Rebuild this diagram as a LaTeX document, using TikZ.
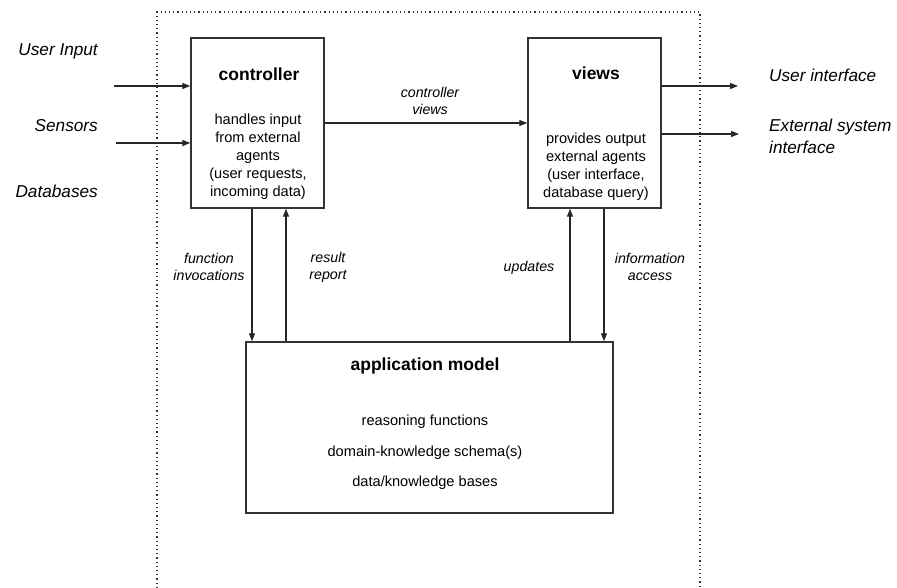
\documentclass[tikz,border=0pt]{standalone}
\usepackage{fontspec}
\setmainfont{Liberation Sans}
\usetikzlibrary{arrows.meta}
\begin{document}
\begin{tikzpicture}[x=1pt,y=-1pt,
  box/.style={draw=black!80, line width=1.4pt, inner sep=0pt, fill=none},
  arr/.style={draw=black!85, line width=1.3pt, -{Triangle[length=8pt,width=6pt]}},
  ttl/.style={font=\fontsize{17.5}{20}\selectfont\bfseries, inner sep=0pt},
  body/.style={font=\fontsize{14.6}{18}\selectfont, align=center, inner sep=0pt},
  elab/.style={font=\fontsize{14.2}{17.2}\selectfont\itshape, align=center, inner sep=0pt},
  slab/.style={font=\fontsize{17.2}{22}\selectfont\itshape, align=left, inner sep=0pt},
  bound/.style={draw=black!80, line width=1.3pt, dash pattern=on 1.2pt off 3pt}]
\useasboundingbox (0,0) rectangle (897,588);
% boundary (open at bottom)
\draw[bound] (157,588) -- (157,12) -- (700,12) -- (700,588);
% boxes
\node[box, minimum width=133pt, minimum height=170pt] (ctrl) at (257.5,123) {};
\node[box, minimum width=133pt, minimum height=170pt] (views) at (594.5,123) {};
\node[box, minimum width=367pt, minimum height=171pt] (model) at (429.5,427.5) {};
% box texts
\node[ttl] (ctrlT) at (259,74) {controller};
\node[body] (ctrlB) at (258,157) {handles input\\from external\\agents\\(user requests,\\incoming data)};
\node[ttl] (viewsT) at (596,73) {views};
\node[body] (viewsB) at (596,167) {provides output\\external agents\\(user interface,\\database query)};
\node[ttl] (modelT) at (425,366) {application model};
\node[body] (m1) at (425,422) {reasoning functions};
\node[body] (m2) at (425,453) {domain-knowledge schema(s)};
\node[body] (m3) at (425,483) {data/knowledge bases};
% side labels
\node[slab, anchor=east] (lin) at (98,51) {User Input};
\node[slab, anchor=east] (lsens) at (98,126) {Sensors};
\node[slab, anchor=east] (ldb) at (98,191) {Databases};
\node[slab, anchor=west] (lui) at (769,75) {User interface};
\node[slab, anchor=west] (lext) at (769,136) {External system\\interface};
% input / output arrows
\coordinate (in1) at (114,86);
\coordinate (in2) at (116,143);
\coordinate (out1) at (738,86);
\coordinate (out2) at (739,134);
\draw[arr] (in1) -- (in1 -| ctrl.west);
\draw[arr] (in2) -- (in2 -| ctrl.west);
\draw[arr] (out1 -| views.east) -- (out1);
\draw[arr] (out2 -| views.east) -- (out2);
% controller -> views
\draw[arr] (ctrl.east) -- (views.west);
\node[elab] (lcv) at (430,101) {controller\\views};
% vertical connectors
\coordinate (v1) at (252,0);
\coordinate (v2) at (286,0);
\coordinate (v3) at (570,0);
\coordinate (v4) at (604,0);
\draw[arr] (ctrl.south -| v1) -- (model.north -| v1);
\draw[arr] (model.north -| v2) -- (ctrl.south -| v2);
\draw[arr] (model.north -| v3) -- (views.south -| v3);
\draw[arr] (views.south -| v4) -- (model.north -| v4);
\node[elab] (lfi) at (209,267) {function\\invocations};
\node[elab] (lrr) at (328,267) {result\\report};
\node[elab] (lup) at (529,268) {updates};
\node[elab] (lia) at (650,267) {information\\access};
\end{tikzpicture}
\end{document}
